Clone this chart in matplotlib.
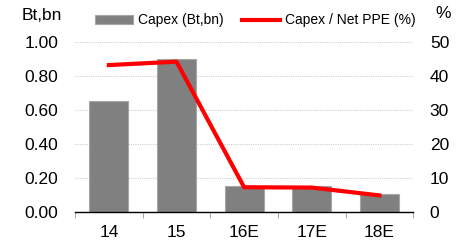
import matplotlib.pyplot as plt
import numpy as np

plt.rcParams['font.family'] = ['Liberation Sans', 'DejaVu Sans']

years = ['14', '15', '16E', '17E', '18E']
capex = [0.655, 0.90, 0.155, 0.155, 0.105]
capex_ppe = [43.2, 44.2, 7.3, 7.2, 4.9]

fig = plt.figure(figsize=(4.69, 2.41), dpi=100)
ax = fig.add_axes([0.16, 0.12, 0.721, 0.706])
ax2 = ax.twinx()

x = np.arange(len(years))
bars = ax.bar(x, capex, width=0.58, color='#808080', edgecolor='#a6a6a6',
              linewidth=0.8, label='Capex (Bt,bn)', zorder=2)
line, = ax2.plot(x, capex_ppe, color='#ff0000', linewidth=3,
                 label='Capex / Net PPE (%)', zorder=3)

ax.set_xlim(-0.5, len(years) - 0.5)
ax.set_ylim(0, 1.0)
ax2.set_ylim(0, 50)
ax.set_yticks(np.arange(0, 1.01, 0.2))
ax.set_yticklabels(['%.2f' % v for v in np.arange(0, 1.01, 0.2)])
ax2.set_yticks(np.arange(0, 51, 10))

ax.set_xticks(x)
ax.set_xticklabels(years)
ax.set_xticks(np.arange(-0.5, len(years), 1), minor=True)
ax.tick_params(axis='x', which='major', length=0, labelsize=12.5, pad=9)
ax.tick_params(axis='x', which='minor', length=4, direction='out', color='#999999')
ax.tick_params(axis='y', length=0, labelsize=12.5, pad=12)
ax2.tick_params(axis='y', length=0, labelsize=12.5, pad=12)

ax.yaxis.grid(True, linestyle=(0, (1, 1)), color='#d0d0d0', linewidth=0.8, zorder=0)
ax.set_axisbelow(True)

for a in (ax, ax2):
    for s in ['top', 'left', 'right']:
        a.spines[s].set_visible(False)
ax2.spines['bottom'].set_visible(False)
ax.spines['bottom'].set_color('black')
ax.spines['bottom'].set_linewidth(1)

fig.text(0.047, 0.935, 'Bt,bn', fontsize=12.5, ha='left', va='center')
fig.text(0.945, 0.945, '%', fontsize=12.5, ha='center', va='center')

fig.legend([bars, line], ['Capex (Bt,bn)', 'Capex / Net PPE (%)'],
           loc='center', bbox_to_anchor=(0.545, 0.915), ncol=2, frameon=False,
           fontsize=10, handlelength=2.7, handletextpad=0.4, columnspacing=1.3)

fig.savefig('out.png', dpi=100)
